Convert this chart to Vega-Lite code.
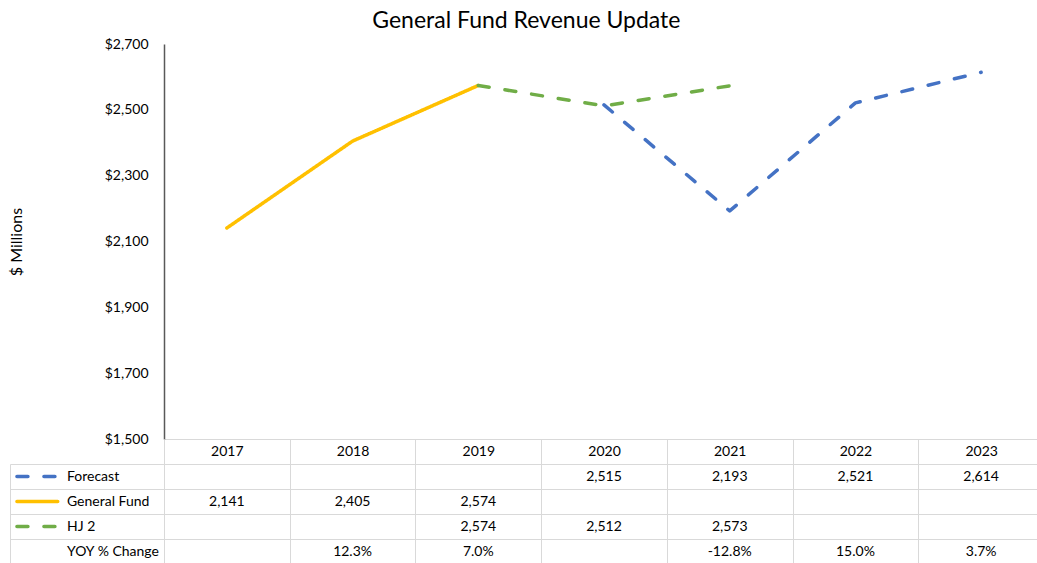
{
  "$schema": "https://vega.github.io/schema/vega-lite/v6.json",
  "padding": {"left": 8, "top": 10, "right": 0, "bottom": 0},
  "background": "white",
  "title": {"text": "General Fund Revenue Update", "fontSize": 23, "fontWeight": "normal", "color": "#000", "anchor": "middle", "frame": "bounds", "offset": 4},
  "datasets": {
    "revenue": [
      {"series": "General Fund", "year": 2017, "value": 2141},
      {"series": "General Fund", "year": 2018, "value": 2405},
      {"series": "General Fund", "year": 2019, "value": 2574},
      {"series": "HJ 2", "year": 2019, "value": 2574},
      {"series": "HJ 2", "year": 2020, "value": 2512},
      {"series": "HJ 2", "year": 2021, "value": 2573},
      {"series": "Forecast", "year": 2020, "value": 2515},
      {"series": "Forecast", "year": 2021, "value": 2193},
      {"series": "Forecast", "year": 2022, "value": 2521},
      {"series": "Forecast", "year": 2023, "value": 2614}
    ],
    "yoy": [
      {"year": 2018, "change": 0.123},
      {"year": 2019, "change": 0.070},
      {"year": 2021, "change": -0.128},
      {"year": 2022, "change": 0.150},
      {"year": 2023, "change": 0.037}
    ],
    "rows": [
      {"row": "Forecast"},
      {"row": "General Fund"},
      {"row": "HJ 2"},
      {"row": "YOY % Change"}
    ],
    "series": [
      {"row": "Forecast"},
      {"row": "General Fund"},
      {"row": "HJ 2"}
    ]
  },
  "columns": 2,
  "bounds": "flush",
  "align": "each",
  "spacing": {"row": 25, "column": 0},
  "resolve": {"scale": {"x": "independent", "y": "independent", "color": "independent", "strokeDash": "independent"}},
  "concat": [
    {
      "width": 154, "height": 395,
      "data": {"values": []},
      "mark": {"type": "point", "opacity": 0}
    },
    {
      "width": 880, "height": 395,
      "data": {"name": "revenue"},
      "mark": {"type": "line", "strokeWidth": 3.5, "strokeCap": "round", "strokeJoin": "round"},
      "encoding": {
        "x": {"field": "year", "type": "ordinal", "scale": {"domain": [2017, 2018, 2019, 2020, 2021, 2022, 2023], "padding": 0.5},
              "axis": {"title": null, "labels": false, "ticks": false, "grid": false, "domain": true, "domainColor": "#d9d9d9", "domainWidth": 1}},
        "y": {"field": "value", "type": "quantitative", "scale": {"domain": [1500, 2700], "nice": false, "zero": false},
              "axis": {"title": "$ Millions", "values": [1500, 1700, 1900, 2100, 2300, 2500, 2700], "format": "$,.0f", "grid": false, "ticks": false,
                       "labelPadding": 16, "labelFontSize": 14, "labelColor": "#000", "domainColor": "#595959", "domainWidth": 1.5,
                       "titleFontSize": 16, "titleFontWeight": "normal", "titleColor": "#000", "titlePadding": 80}},
        "color": {"field": "series", "type": "nominal", "scale": {"domain": ["Forecast", "General Fund", "HJ 2"], "range": ["#4472C4", "#FFC000", "#70AD47"]}, "legend": null},
        "strokeDash": {"field": "series", "type": "nominal", "scale": {"domain": ["Forecast", "General Fund", "HJ 2"], "range": [[11, 16], [1, 0], [11, 16]]}, "legend": null}
      }
    },
    {
      "width": 154, "height": 100,
      "layer": [
        {
          "data": {"name": "rows"},
          "mark": {"type": "text", "align": "left", "baseline": "middle", "fontSize": 14, "color": "#000"},
          "encoding": {
            "y": {"field": "row", "type": "nominal", "scale": {"domain": ["Forecast", "General Fund", "HJ 2", "YOY % Change"], "paddingInner": 0, "paddingOuter": 0},
                  "axis": {"title": null, "labels": false, "ticks": false, "domain": true, "domainColor": "#d9d9d9", "grid": true, "tickBand": "extent", "gridColor": "#d9d9d9", "gridWidth": 1}},
            "x": {"datum": 0.37, "type": "quantitative", "scale": {"domain": [0, 1]}, "axis": null},
            "text": {"field": "row", "type": "nominal"}
          }
        },
        {
          "data": {"name": "series"},
          "mark": {"type": "rule", "strokeWidth": 3.5, "strokeCap": "round"},
          "encoding": {
            "y": {"field": "row", "type": "nominal"},
            "x": {"datum": 0.045, "type": "quantitative"},
            "x2": {"datum": 0.31},
            "color": {"field": "row", "type": "nominal", "scale": {"domain": ["Forecast", "General Fund", "HJ 2"], "range": ["#4472C4", "#FFC000", "#70AD47"]}, "legend": null},
            "strokeDash": {"field": "row", "type": "nominal", "scale": {"domain": ["Forecast", "General Fund", "HJ 2"], "range": [[11, 16], [1, 0], [11, 16]]}, "legend": null}
          }
        }
      ]
    },
    {
      "width": 880, "height": 100,
      "layer": [
        {
          "data": {"name": "revenue"},
          "mark": {"type": "text", "fontSize": 14, "color": "#000", "baseline": "middle"},
          "encoding": {
            "x": {"field": "year", "type": "ordinal", "scale": {"domain": [2017, 2018, 2019, 2020, 2021, 2022, 2023], "paddingInner": 0, "paddingOuter": 0},
                  "axis": {"orient": "top", "title": null, "tickBand": "extent", "tickSize": 25, "tickColor": "#d9d9d9", "domainColor": "#d9d9d9",
                           "grid": true, "gridColor": "#d9d9d9", "gridWidth": 1, "labelAngle": 0, "labelBaseline": "middle", "labelPadding": -12.5,
                           "labelFontSize": 14, "labelColor": "#000"}},
            "y": {"field": "series", "type": "nominal", "scale": {"domain": ["Forecast", "General Fund", "HJ 2", "YOY % Change"], "paddingInner": 0, "paddingOuter": 0},
                  "axis": {"title": null, "labels": false, "ticks": false, "domain": false, "grid": true, "tickBand": "extent", "gridColor": "#d9d9d9", "gridWidth": 1}},
            "text": {"field": "value", "type": "quantitative", "format": ","}
          }
        },
        {
          "data": {"name": "yoy"},
          "mark": {"type": "text", "fontSize": 14, "color": "#000", "baseline": "middle",
                   "text": {"expr": "replace(format(datum.change, '.1%'), '\u2212', '-')"}},
          "encoding": {
            "x": {"field": "year", "type": "ordinal"},
            "y": {"datum": "YOY % Change", "type": "nominal"}
          }
        }
      ]
    }
  ],
  "config": {
    "font": "Lato",
    "view": {"stroke": null},
    "axis": {"labelFont": "Lato", "titleFont": "Lato"},
    "text": {"font": "Lato"}
  }
}
